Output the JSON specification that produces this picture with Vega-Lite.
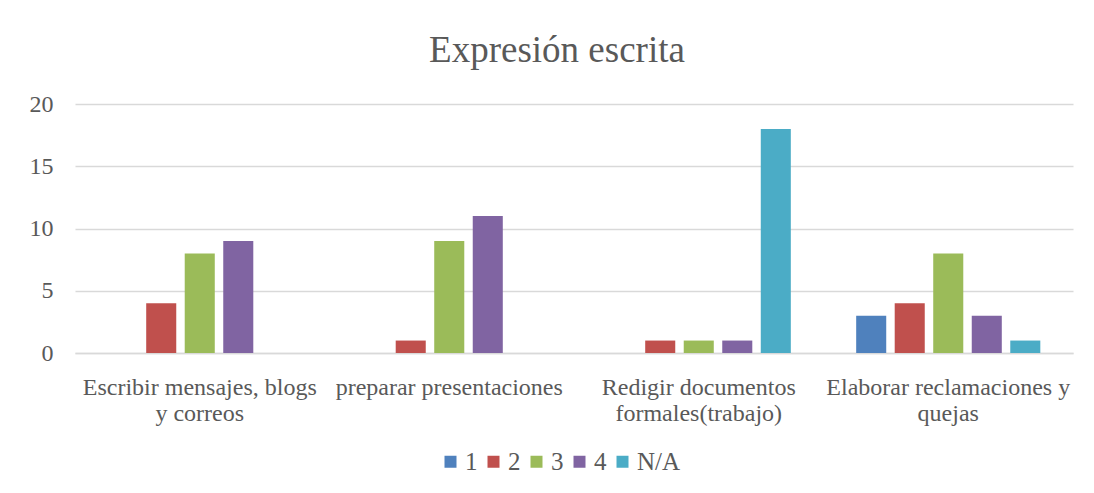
{
  "$schema": "https://vega.github.io/schema/vega-lite/v6.json",
  "width": 998,
  "height": 249,
  "autosize": {"type": "none"},
  "padding": {"left": 75, "top": 104, "right": 21, "bottom": 140},
  "background": "white",
  "title": {
    "text": "Expresión escrita",
    "font": "Liberation Serif",
    "fontSize": 37,
    "fontWeight": "normal",
    "color": "#595959",
    "anchor": "middle",
    "offset": 22,
    "dx": -17
  },
  "data": {
    "values": [
      {"cat": "Escribir mensajes, blogs y correos", "serie": "1", "valor": 0},
      {"cat": "Escribir mensajes, blogs y correos", "serie": "2", "valor": 4},
      {"cat": "Escribir mensajes, blogs y correos", "serie": "3", "valor": 8},
      {"cat": "Escribir mensajes, blogs y correos", "serie": "4", "valor": 9},
      {"cat": "Escribir mensajes, blogs y correos", "serie": "N/A", "valor": 0},
      {"cat": "preparar presentaciones", "serie": "1", "valor": 0},
      {"cat": "preparar presentaciones", "serie": "2", "valor": 1},
      {"cat": "preparar presentaciones", "serie": "3", "valor": 9},
      {"cat": "preparar presentaciones", "serie": "4", "valor": 11},
      {"cat": "preparar presentaciones", "serie": "N/A", "valor": 0},
      {"cat": "Redigir documentos formales(trabajo)", "serie": "1", "valor": 0},
      {"cat": "Redigir documentos formales(trabajo)", "serie": "2", "valor": 1},
      {"cat": "Redigir documentos formales(trabajo)", "serie": "3", "valor": 1},
      {"cat": "Redigir documentos formales(trabajo)", "serie": "4", "valor": 1},
      {"cat": "Redigir documentos formales(trabajo)", "serie": "N/A", "valor": 18},
      {"cat": "Elaborar reclamaciones y quejas", "serie": "1", "valor": 3},
      {"cat": "Elaborar reclamaciones y quejas", "serie": "2", "valor": 4},
      {"cat": "Elaborar reclamaciones y quejas", "serie": "3", "valor": 8},
      {"cat": "Elaborar reclamaciones y quejas", "serie": "4", "valor": 3},
      {"cat": "Elaborar reclamaciones y quejas", "serie": "N/A", "valor": 1}
    ]
  },
  "mark": {"type": "bar"},
  "encoding": {
    "x": {
      "field": "cat",
      "type": "nominal",
      "sort": null,
      "scale": {"paddingInner": 0.228, "paddingOuter": 0.114},
      "axis": {
        "title": null,
        "labelAngle": 0,
        "labelFont": "Liberation Serif",
        "labelFontSize": 24,
        "labelColor": "#595959",
        "labelLineHeight": 26,
        "labelPadding": 22,
        "labelBaseline": "top",
        "labelLimit": 400,
        "ticks": false,
        "domainColor": "#d9d9d9",
        "domainWidth": 1.5,
        "labelExpr": "datum.value == 'Escribir mensajes, blogs y correos' ? ['Escribir mensajes, blogs', 'y correos'] : datum.value == 'Redigir documentos formales(trabajo)' ? ['Redigir documentos', 'formales(trabajo)'] : datum.value == 'Elaborar reclamaciones y quejas' ? ['Elaborar reclamaciones y', 'quejas'] : datum.value"
      }
    },
    "xOffset": {
      "field": "serie",
      "type": "nominal",
      "sort": ["1", "2", "3", "4", "N/A"],
      "scale": {"paddingInner": 0.22, "paddingOuter": 0.11}
    },
    "y": {
      "field": "valor",
      "type": "quantitative",
      "scale": {"domain": [0, 20], "nice": false},
      "axis": {
        "title": null,
        "values": [0, 5, 10, 15, 20],
        "labelFont": "Liberation Serif",
        "labelFontSize": 24,
        "labelColor": "#595959",
        "labelPadding": 22,
        "ticks": false,
        "domain": false,
        "gridColor": "#d9d9d9",
        "gridWidth": 1.5
      }
    },
    "color": {
      "field": "serie",
      "type": "nominal",
      "sort": ["1", "2", "3", "4", "N/A"],
      "scale": {
        "domain": ["1", "2", "3", "4", "N/A"],
        "range": ["#4f81bd", "#c0504d", "#9bbb59", "#8064a2", "#4bacc6"]
      },
      "legend": {
        "title": null,
        "orient": "none",
        "legendX": 363,
        "legendY": 345,
        "direction": "horizontal",
        "symbolType": "square",
        "symbolSize": 144,
        "symbolStrokeWidth": 0,
        "labelFont": "Liberation Serif",
        "labelFontSize": 25,
        "labelColor": "#595959",
        "columnPadding": 3,
        "labelOffset": 2
      }
    }
  },
  "config": {
    "view": {"stroke": null}
  }
}
